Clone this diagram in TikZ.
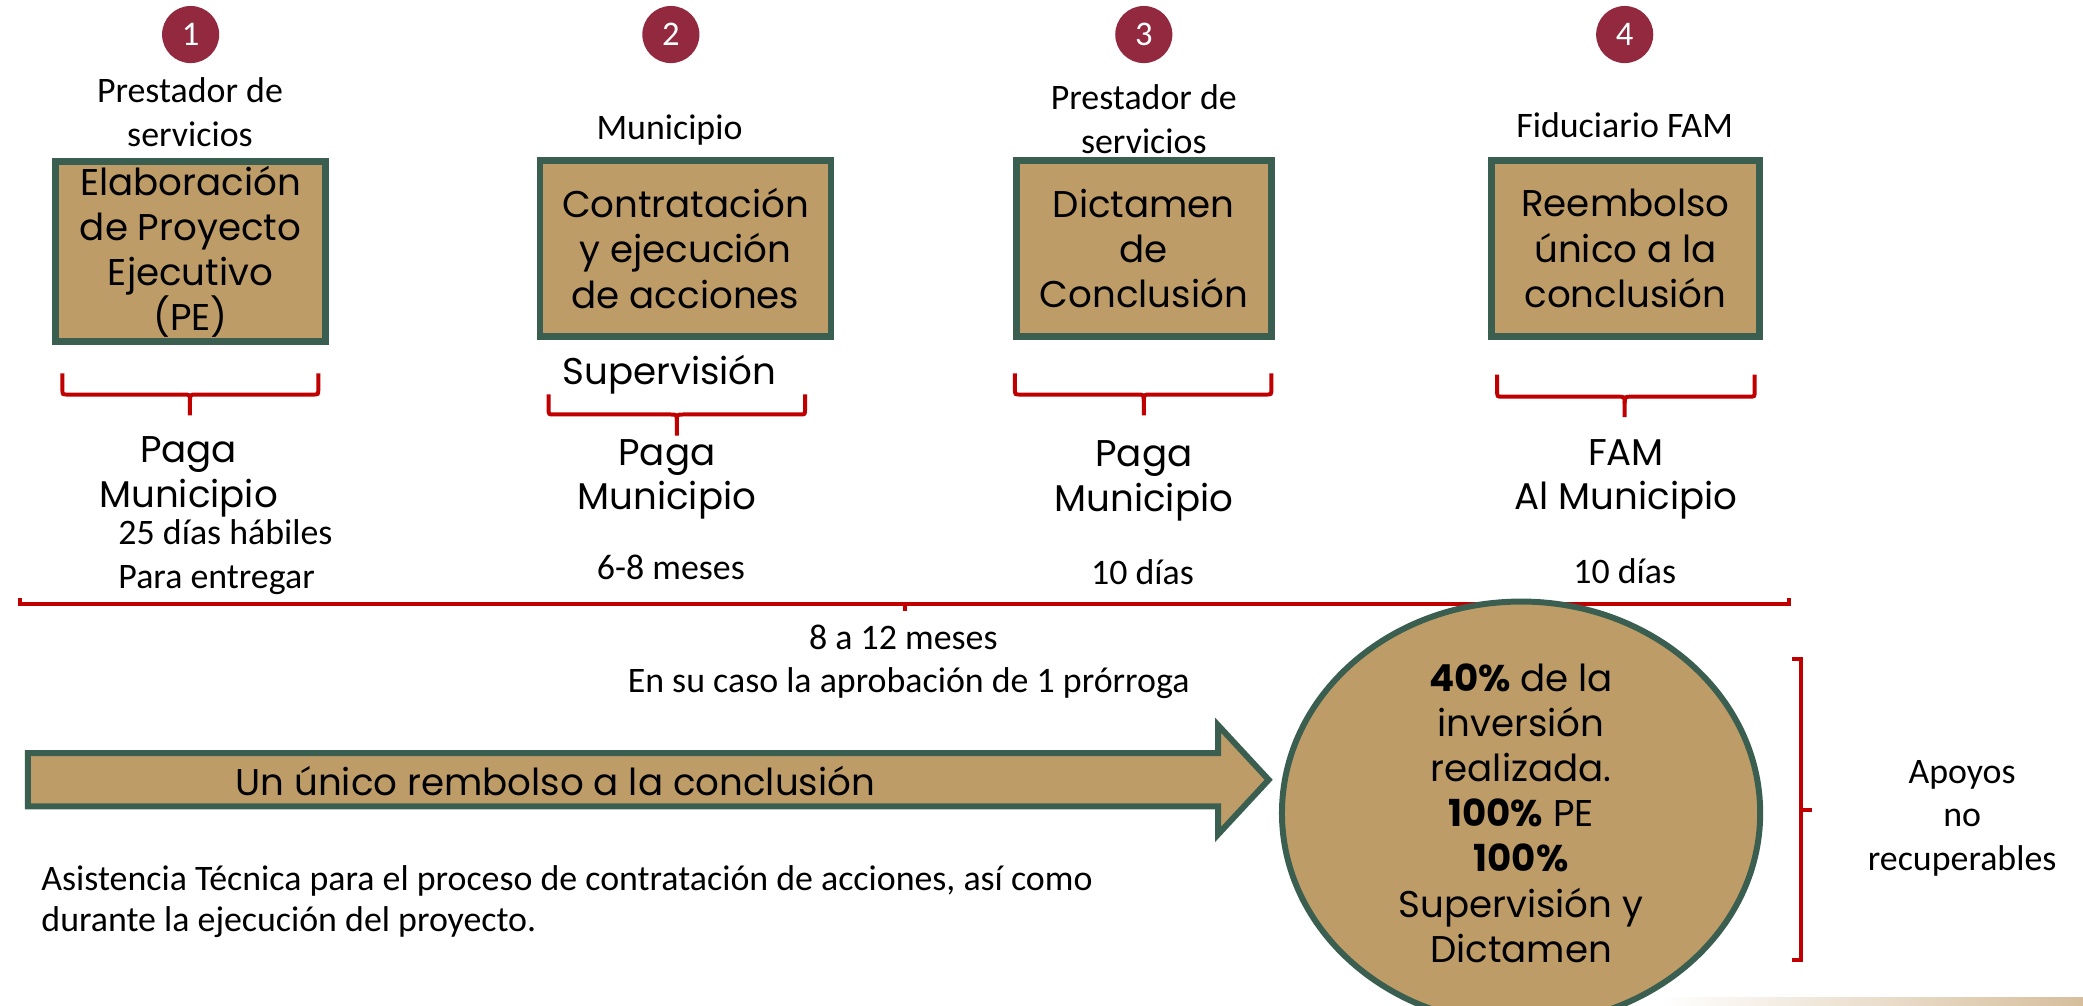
\documentclass[tikz,border=0pt]{standalone}
\usepackage{fontspec}
\usetikzlibrary{shapes.geometric}
\newfontfamily\calib{Carlito}
\newfontfamily\mont{Poppins}
\definecolor{boxtan}{HTML}{BD9C68}
\definecolor{boxgreen}{HTML}{3A5F50}
\definecolor{numred}{HTML}{93293F}
\definecolor{linered}{HTML}{C00000}
\definecolor{stripbeige}{HTML}{D6BE9C}
\newcommand\mybrace[6]{%
  \draw[brace] (#1,#4) -- (#1,{#5-4}) .. controls (#1,#5) .. ({#1+4},#5) -- ({#3-5},#5) .. controls (#3,#5) .. (#3,{#5+5}) -- (#3,#6);
  \draw[brace] (#2,#4) -- (#2,{#5-4}) .. controls (#2,#5) .. ({#2-4},#5) -- ({#3+5},#5) .. controls (#3,#5) .. (#3,{#5+5});
}
\begin{document}
\begin{tikzpicture}[x=1pt,y=-1pt,
  num/.style={circle, fill=numred, minimum size=43pt, inner sep=0pt, text=white, font=\calib\fontsize{26}{30}\selectfont},
  role/.style={font=\calib\fontsize{27}{33}\selectfont, align=center, inner sep=0pt},
  stepbox/.style={draw=boxgreen, line width=5pt, fill=boxtan, inner sep=0pt, align=center, font=\mont\fontsize{28}{34}\selectfont},
  mtext/.style={font=\mont\fontsize{28}{33.5}\selectfont, align=center, inner sep=0pt},
  brace/.style={draw=linered, line width=3pt},
  bigshape/.style={draw=boxgreen, line width=4.5pt, fill=boxtan}
]
\useasboundingbox (0,0) rectangle (1568,757);
% bottom strip
\shade[left color=white, right color=stripbeige] (1250,751) rectangle (1568,757);

% numbered circles
\node[num] (c1) at (143.5,26) {1};
\node[num] (c2) at (505,26) {2};
\node[num] (c3) at (861,26) {3};
\node[num] (c4) at (1223,26) {4};

% role labels
\node[role] (r1) at (143,84.5) {Prestador de\\servicios};
\node[role] (r2) at (504,98) {Municipio};
\node[role] (r3) at (861,90) {Prestador de\\servicios};
\node[role] (r4) at (1223,94) {Fiduciario FAM};

% boxes
\node[stepbox, minimum width=203pt, minimum height=135.5pt] (b1) at (143.4,189.5) {Elaboración\\de Proyecto\\Ejecutivo\\(PE)};
\node[stepbox, minimum width=219pt, minimum height=132.5pt] (b2) at (516,187) {Contratación\\y ejecución\\de acciones};
\node[stepbox, minimum width=192pt, minimum height=132.5pt] (b3) at (861,187) {Dictamen\\de\\Conclusión};
\node[stepbox, minimum width=202pt, minimum height=132.5pt] (b4) at (1223.6,187) {Reembolso\\único a la\\conclusión};

\node[mtext] (sup) at (504,282) {Supervisión};

% braces under the boxes
\mybrace{47}{239.6}{143}{281}{297}{312.6}
\mybrace{413}{606}{509.5}{296.8}{312}{328}
\mybrace{764}{957}{861}{281}{297}{312.6}
\mybrace{1127}{1320.8}{1223}{282}{298.6}{314}

% payer labels
\node[mtext] (p1) at (142,359) {Paga\\Municipio};
\node[mtext] (p2) at (502,361) {Paga\\Municipio};
\node[mtext] (p3) at (861,362) {Paga\\Municipio};
\node[mtext] (p4) at (1224,361) {FAM\\Al Municipio};

% durations
\node[role, align=left, anchor=west] (d1) at (89,419.5) {25 días hábiles\\Para entregar};
\node[role] (d2) at (505,427) {6-8 meses};
\node[role] (d3) at (860,431) {10 días};
\node[role] (d4) at (1223,430) {10 días};

% long bracket
\draw[brace] (15,450) -- (15,455) -- (1347,455) -- (1347,450);
\draw[brace] (681,455) -- (681,460);

\node[role] (t1) at (680,480) {8 a 12 meses};
\node[role] (t2) at (684,514) {En su caso la aprobación de 1 prórroga};

% block arrow
\coordinate (atail) at (21,587);
\coordinate (atip) at (955,587);
\draw[bigshape] (21,567) -- (917,567) -- (917,546) -- (atip) -- (917,628) -- (917,607) -- (21,607) -- cycle;
\node[mtext] (atext) at (418,588) {Un único rembolso a la conclusión};

% ellipse
\node[ellipse, bigshape, minimum width=360pt, minimum height=284pt, inner sep=0pt, align=center,
      font=\mont\fontsize{28}{34}\selectfont] (ell) at (1145,612)
  {{\bfseries 40\%} de la\\inversión\\realizada.\\{\bfseries 100\%} PE\\{\bfseries 100\%}\\Supervisión y\\Dictamen};

% right bracket
\draw[brace] (1349,496) -- (1356,496) -- (1356,723) -- (1349,723);
\draw[brace] (1356,610) -- (1364,610);
\node[role, align=center] (apoyos) at (1477,616) {Apoyos\\no\\recuperables};

% note
\node[role, align=left, anchor=west, font=\calib\fontsize{27}{31}\selectfont] (note) at (31,679)
  {Asistencia Técnica para el proceso de contratación de acciones, así como\\durante la ejecución del proyecto.};
\end{tikzpicture}
\end{document}
